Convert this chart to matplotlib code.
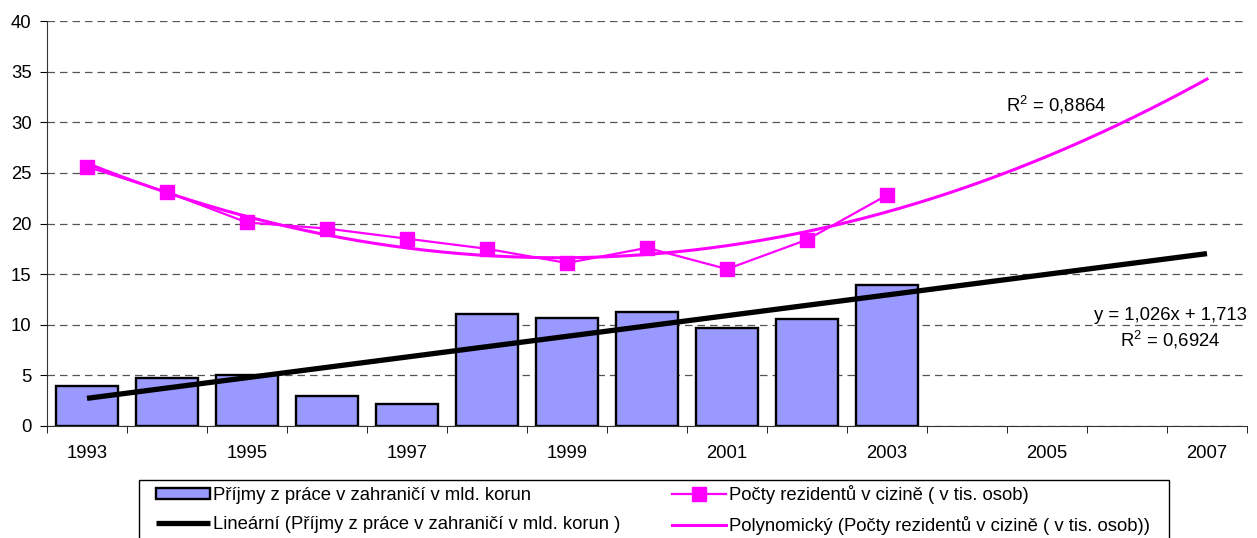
import numpy as np
import matplotlib
matplotlib.use("Agg")
import matplotlib.pyplot as plt
from matplotlib.patches import Rectangle

plt.rcParams["font.family"] = ["Liberation Sans", "DejaVu Sans"]
plt.rcParams["mathtext.fontset"] = "custom"
plt.rcParams["mathtext.rm"] = "Liberation Sans"

years = list(range(1993, 2008))
income = [4.0, 4.7, 5.0, 3.0, 2.2, 11.1, 10.7, 11.3, 9.7, 10.6, 13.9]
residents = [25.6, 23.1, 20.1, 19.5, 18.5, 17.5, 16.1, 17.6, 15.5, 18.4, 22.8]

C_BAR = "#9999FF"
C_PINK = "#FF00FF"
FS = 13.3

x_data = np.arange(len(income))
x_all = np.arange(len(years))

# trendlines as Excel computes them (x = 1..n)
lin = np.polyfit(x_data + 1, income, 1)
poly = np.polyfit(x_data + 1, residents, 2)

W, H = 1257, 538
fig = plt.figure(figsize=(W / 100, H / 100), dpi=100)
ax = fig.add_axes([47 / W, 1 - 426 / H, 1200 / W, 405 / H])

h_bar = ax.bar(x_data, income, width=0.77, color=C_BAR, edgecolor="black",
               linewidth=1.7, zorder=2)
h_lin, = ax.plot(x_all, np.polyval(lin, x_all + 1), color="black", linewidth=3.8,
                 solid_capstyle="butt", zorder=3)
h_res, = ax.plot(x_data, residents, color=C_PINK, linewidth=1.6, marker="s",
                 markersize=10, zorder=4)
xs = np.linspace(0, len(years) - 1, 200)
h_poly, = ax.plot(xs, np.polyval(poly, xs + 1), color=C_PINK, linewidth=2.2, zorder=4)

ax.set_xlim(-0.5, len(years) - 0.5)
ax.set_ylim(0, 40)
ax.set_yticks(range(0, 41, 5))
ax.set_xticks(x_all[::2])
ax.set_xticklabels([str(y) for y in years[::2]])
ax.set_xticks(np.arange(-0.5, len(years), 1), minor=True)
ax.tick_params(axis="x", which="major", length=0, pad=14, labelsize=FS)
ax.tick_params(axis="x", which="minor", length=5, direction="out")
ax.tick_params(axis="y", length=5, direction="out", labelsize=FS, pad=6)
ax.grid(axis="y", color="#555555", linestyle=(0, (6, 4)), linewidth=0.9)
ax.set_axisbelow(True)
for s in ("top", "right"):
    ax.spines[s].set_visible(False)
ax.spines["left"].set_color("#333333")
ax.spines["bottom"].set_color("#333333")

ax.text(12.11, 31.7, "R$^2$ = 0,8864", fontsize=FS, ha="center", va="center")
ax.text(14.5, 10.96, "y = 1,026x + 1,713", fontsize=FS, ha="right", va="center")
ax.text(13.54, 8.49, "R$^2$ = 0,6924", fontsize=FS, ha="center", va="center")

# legend frame, cut off by the bottom of the picture
fig.patches.append(Rectangle((139 / W, -0.05), 1030 / W, 0.05 + 1 - 480 / H,
                             transform=fig.transFigure, facecolor="white",
                             edgecolor="black", linewidth=1.0))

leg_kw = dict(loc="upper left", fontsize=FS, frameon=False, handlelength=2.9,
              handletextpad=0.17, borderaxespad=0, borderpad=0,
              labelspacing=0.67, handleheight=0.55)
leg1 = fig.legend([h_bar, h_lin],
                  ["Příjmy z práce v zahraničí v mld. korun",
                   "Lineární (Příjmy z práce v zahraničí v mld. korun )"],
                  bbox_to_anchor=(156 / W, 1 - 487 / H), **leg_kw)
leg2 = fig.legend([h_res, h_poly],
                  ["Počty rezidentů v cizině ( v tis. osob)",
                   "Polynomický (Počty rezidentů v cizině ( v tis. osob))"],
                  bbox_to_anchor=(672 / W, 1 - 485 / H), **leg_kw)

fig.savefig("out.png", dpi=100)
